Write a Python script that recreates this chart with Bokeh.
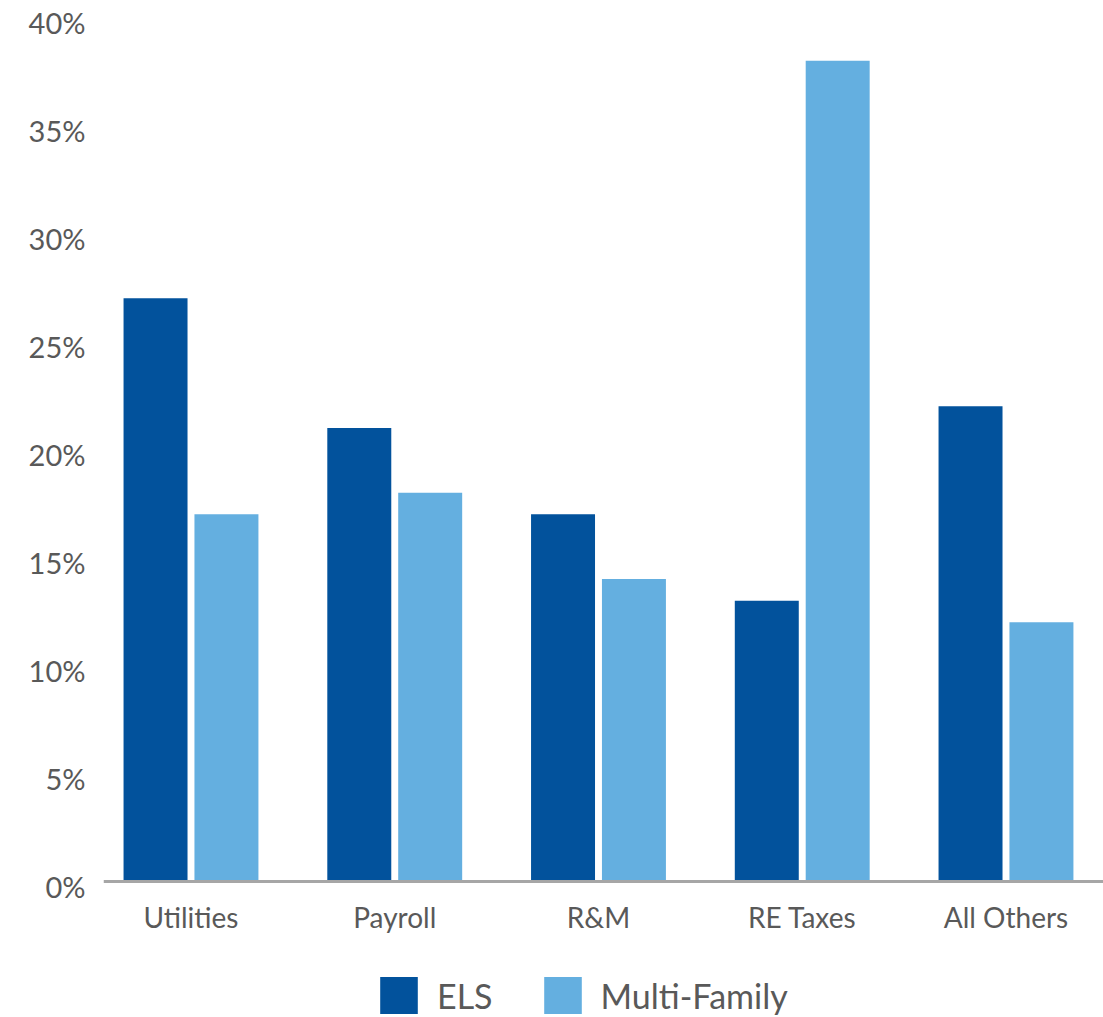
from bokeh.plotting import figure
from bokeh.models import (ColumnDataSource, Range1d, FixedTicker, Span, Legend,
                          LegendItem, LinearAxis)
from bokeh.core.properties import value
from bokeh.transform import dodge
from bokeh.embed import file_html
from bokeh.resources import INLINE

categories = ["Utilities", "Payroll", "R&M", "RE Taxes", "All Others"]
els = [27, 21, 17, 13, 22]
multi_family = [17, 18, 14, 38, 12]
y_ticks = [0, 5, 10, 15, 20, 25, 30, 35, 40]
y_tick_labels = ["0%", "5%", "10%", "15%", "20%", "25%", "30%", "35%", "40%"]

ELS_COLOR = "#02529C"
MF_COLOR = "#64AFE0"
TEXT = "#595959"
FONT = "Lato"

PX = 21.6          # pixels per percentage point
H = 1017
BASE = 881         # pixel row of the 0% baseline
y0 = -(H - BASE) / PX
y1 = BASE / PX
SHIFT = 5 / PX
CAT_LABEL_Y = -(916 - BASE) / PX

src = ColumnDataSource(dict(idx=list(range(len(categories))), els=els, mf=multi_family,
                            cat=categories, ly=[CAT_LABEL_Y] * len(categories)))

p = figure(frame_width=1000, frame_height=H,
           x_range=Range1d(-0.4294, 4.4786), y_range=Range1d(y0, y1),
           output_backend="svg", toolbar_location=None,
           x_axis_location=None, y_axis_location=None,
           min_border_left=103, min_border_right=0, min_border_top=0,
           min_border_bottom=0)
p.extra_y_ranges = {"lab": Range1d(y0 + SHIFT, y1 + SHIFT)}

p.outline_line_color = None
p.xgrid.visible = False
p.ygrid.visible = False
p.background_fill_color = "white"
p.border_fill_color = "white"

r1 = p.vbar(x=dodge("idx", -0.174, range=p.x_range), top="els", width=0.314,
            source=src, fill_color=ELS_COLOR, line_color=None)
r2 = p.vbar(x=dodge("idx", 0.174, range=p.x_range), top="mf", width=0.314,
            source=src, fill_color=MF_COLOR, line_color=None)

p.add_layout(Span(location=0, dimension="width", line_color="#A6A6A6", line_width=3))

# category labels
p.text(x="idx", y="ly", text="cat", source=src, text_align="center",
       text_baseline="middle", text_font=value(FONT), text_font_size="28px",
       text_color=TEXT)

yax = LinearAxis(y_range_name="lab", ticker=FixedTicker(ticks=y_ticks),
                 major_label_overrides={t: l for t, l in zip(y_ticks, y_tick_labels)})
yax.axis_line_color = None
yax.major_tick_line_color = None
yax.minor_tick_line_color = None
yax.major_tick_out = 0
yax.major_tick_in = 0
yax.major_label_standoff = 18
yax.major_label_text_font = FONT
yax.major_label_text_font_size = "29px"
yax.major_label_text_color = TEXT
p.add_layout(yax, "left")

legend = Legend(items=[LegendItem(label="ELS", renderers=[r1]),
                       LegendItem(label="Multi-Family", renderers=[r2])],
                orientation="horizontal", location=(272, -1),
                glyph_width=47, glyph_height=46, label_standoff=15, spacing=46,
                label_text_font=FONT, label_text_font_size="34px",
                label_text_color=TEXT, border_line_color=None,
                background_fill_alpha=0, padding=0, margin=0)
p.add_layout(legend, "center")

open("out.html", "w").write(file_html(p, INLINE))
